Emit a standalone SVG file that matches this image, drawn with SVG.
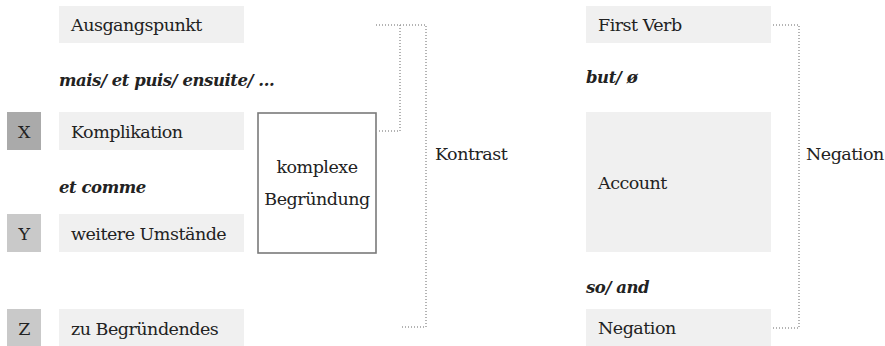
<svg xmlns="http://www.w3.org/2000/svg" width="885" height="346" viewBox="0 0 885 346">
  <style>
    text { font-family: "DejaVu Serif", "Liberation Serif", serif; font-size: 17.5px; letter-spacing: -0.5px; fill: #222; }
    .conj { font-weight: bold; font-style: italic; font-size: 16.5px; letter-spacing: -0.45px; }
    .mid { text-anchor: middle; }
    .box { fill: #f0f0f0; }
    .tagA { fill: #aaaaaa; }
    .tagB { fill: #c9c9c9; }
    .frame { fill: #ffffff; stroke: #7a7a7a; stroke-width: 1.6; }
    .dot { fill: none; stroke: #9a9a9a; stroke-width: 1.5; stroke-dasharray: 1 2; }
  </style>

  <!-- left column -->
  <g id="ausgangspunkt">
    <rect class="box" x="59" y="6" width="185" height="37"/>
    <text x="71" y="31">Ausgangspunkt</text>
  </g>
  <g id="conj-mais">
    <text class="conj" x="59" y="86">mais/ et puis/ ensuite/ ...</text>
  </g>
  <g id="tag-x">
    <rect class="tagA" x="7" y="112" width="34" height="38"/>
    <text class="mid" x="24" y="138">X</text>
  </g>
  <g id="komplikation">
    <rect class="box" x="59" y="112" width="185" height="38"/>
    <text x="71" y="138">Komplikation</text>
  </g>
  <g id="conj-etcomme">
    <text class="conj" x="59" y="193">et comme</text>
  </g>
  <g id="tag-y">
    <rect class="tagB" x="7" y="214" width="34" height="38"/>
    <text class="mid" x="24" y="240">Y</text>
  </g>
  <g id="umstaende">
    <rect class="box" x="59" y="214" width="185" height="38"/>
    <text x="71" y="240">weitere Umstände</text>
  </g>
  <g id="tag-z">
    <rect class="tagB" x="7" y="309" width="34" height="38"/>
    <text class="mid" x="24" y="335">Z</text>
  </g>
  <g id="zu-begruendendes">
    <rect class="box" x="59" y="309" width="185" height="38"/>
    <text x="71" y="335">zu Begründendes</text>
  </g>
  <g id="komplexe-begruendung">
    <rect class="frame" x="258" y="113" width="118" height="140"/>
    <text class="mid" x="317" y="173">komplexe</text>
    <text class="mid" x="317" y="205">Begründung</text>
  </g>
  <g id="kontrast">
    <text x="435" y="160">Kontrast</text>
  </g>

  <!-- right column -->
  <g id="first-verb">
    <rect class="box" x="586" y="6" width="185" height="37"/>
    <text x="598" y="31">First Verb</text>
  </g>
  <g id="conj-but">
    <text class="conj" x="586" y="83">but/ ø</text>
  </g>
  <g id="account">
    <rect class="box" x="586" y="112" width="185" height="140"/>
    <text x="598" y="189">Account</text>
  </g>
  <g id="conj-so">
    <text class="conj" x="586" y="293">so/ and</text>
  </g>
  <g id="negation-box">
    <rect class="box" x="586" y="309" width="185" height="38"/>
    <text x="598" y="334">Negation</text>
  </g>
  <g id="negation-label">
    <text x="806" y="160">Negation</text>
  </g>

  <!-- bracket connectors -->
  <g id="connectors">
    <path class="dot" d="M376 25 H426 V327 H402"/>
    <path class="dot" d="M400 25 V131 H376"/>
    <path class="dot" d="M773 25 H799 V328 H773"/>
  </g>
</svg>
